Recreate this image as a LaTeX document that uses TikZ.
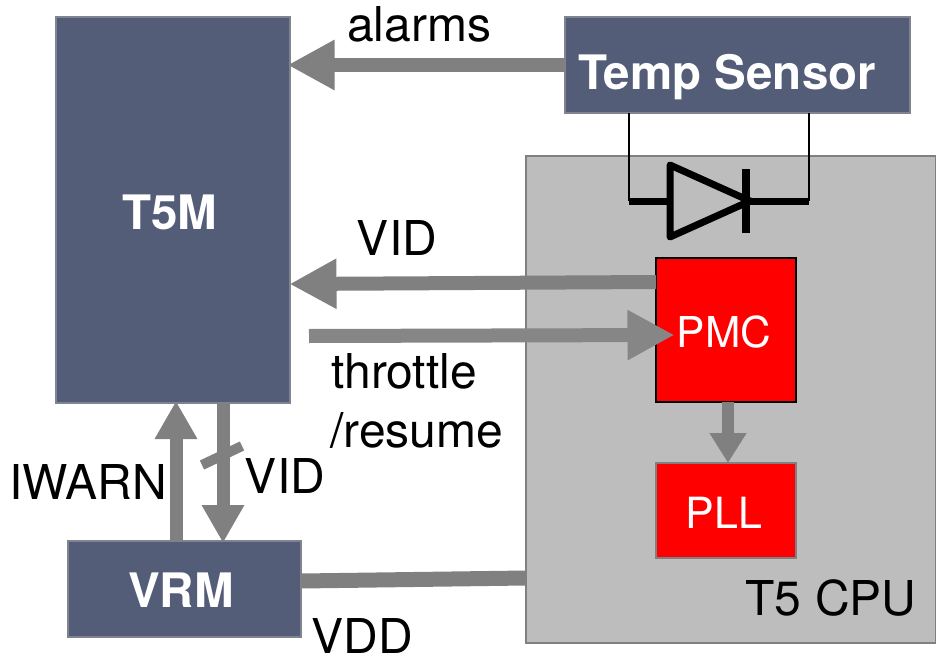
\documentclass[tikz,border=0pt]{standalone}
\usepackage{fontspec}
\setmainfont{TeX Gyre Heros}
\usetikzlibrary{arrows.meta,calc}
\definecolor{slate}{HTML}{535D78}
\definecolor{slateedge}{HTML}{7F8490}
\definecolor{cpugray}{HTML}{BDBDBD}
\definecolor{flow}{HTML}{808080}
\newcommand{\fs}[1]{\fontsize{#1}{#1}\selectfont}
\tikzset{
  x=1pt,y=-1pt,
  box/.style={anchor=north west,inner sep=0pt,outer sep=0pt},
  slatebox/.style={box,fill=slate,draw=slateedge,line width=1.5pt},
  redbox/.style={box,fill=red},
  boxtitle/.style={text=white,font=\fs{47.5}\bfseries,inner sep=0pt},
  redtitle/.style={text=white,inner sep=0pt},
  bigarrow/.style={draw=flow,line width=14pt,-{Triangle[length=47pt,width=47pt]},shorten >=-2.5pt},
  midarrow/.style={draw=flow,line width=13pt,-{Triangle[length=38pt,width=40pt]},shorten >=-2pt},
  label/.style={inner sep=0pt,text=black,font=\fs{48}},
  wire/.style={draw=black,line width=2pt},
  thick wire/.style={draw=black,line width=7pt}
}
\begin{document}
\begin{tikzpicture}
\useasboundingbox (0,0) rectangle (936,658);
\node[box,fill=cpugray,draw=flow,line width=1.5pt,minimum width=410pt,minimum height=487pt] (cpu) at (526,156) {};
\node[slatebox,minimum width=234pt,minimum height=386pt] (t5m) at (56,17) {};
\node[boxtitle] (t5mt) at (170,212) {T5M};
\node[slatebox,minimum width=345pt,minimum height=96pt] (temp) at (565,17) {};
\node[boxtitle] (tempt) at (727,77) {Temp Sensor};
\node[slatebox,minimum width=233pt,minimum height=96pt] (vrm) at (68,541) {};
\node[boxtitle] (vrmt) at (181,590) {VRM};
\node[redbox,draw=black,line width=2pt,minimum width=140pt,minimum height=144pt] (pmc) at (656,258) {};
\node[redtitle,font=\fs{42.5}] (pmct) at (724,332) {PMC};
\node[redbox,draw=flow,line width=1.5pt,minimum width=140pt,minimum height=95pt] (pll) at (656,463) {};
\node[redtitle,font=\fs{43}] (pllt) at (724,513) {PLL};
% labels
\node[label] (lalarms) at (419,24) {alarms};
\node[label] (lvid) at (397,238) {VID};
\node[label,anchor=west] (lthr) at (331,371) {throttle};
\node[label,anchor=west] (lres) at (330,430) {/resume};
\node[label] (liwarn) at (88,482) {IWARN};
\node[label] (lvid2) at (285,476) {VID};
\node[label] (lcpu) at (831,598) {T5 CPU};
\node[label] (lvdd) at (362,636) {VDD};
% connectors
\coordinate (alarmS) at ($(temp.north west)+(0,48)$);
\draw[bigarrow] (alarmS) -- (alarmS -| t5m.east);
\coordinate (vidS) at (pmc.west |- 0,282);
\coordinate (vidE) at (292,284);
\draw[bigarrow] (vidS) -- (vidE);
\coordinate (thrS) at (309,336);
\coordinate (thrE) at (672,335);
\draw[bigarrow,draw=flow!95!white] (thrS) -- (thrE);
\draw[draw=flow,line width=12pt,-{Triangle[length=30pt,width=35pt]}] (pmc.south -| 728,0) -- (pll.north -| 728,0);
\coordinate (iwS) at (176,541);
\draw[midarrow] (iwS) -- (iwS |- t5m.south);
\coordinate (vdS) at (223,403);
\draw[midarrow] (vdS) -- (vdS |- vrm.north);
\draw[draw=flow,line width=10pt] (202,465) -- (242,446);
\coordinate (vddS) at (301,581);
\coordinate (vddE) at (526,578);
\draw[draw=flow,line width=15pt] (vddS) -- (vddE);
% diode
\coordinate (dl) at (629,201);
\coordinate (dr) at (809,201);
\draw[wire] (629,113) -- (dl);
\draw[wire] (809,113) -- (dr);
\draw[thick wire] (dl) -- (670,201);
\draw[thick wire] (750,201) -- (dr);
\draw[thick wire,line join=round] (670,165) -- (670,237) -- (750,201) -- cycle;
\draw[draw=black,line width=8pt] (746,169) -- (746,233);
\end{tikzpicture}
\end{document}
